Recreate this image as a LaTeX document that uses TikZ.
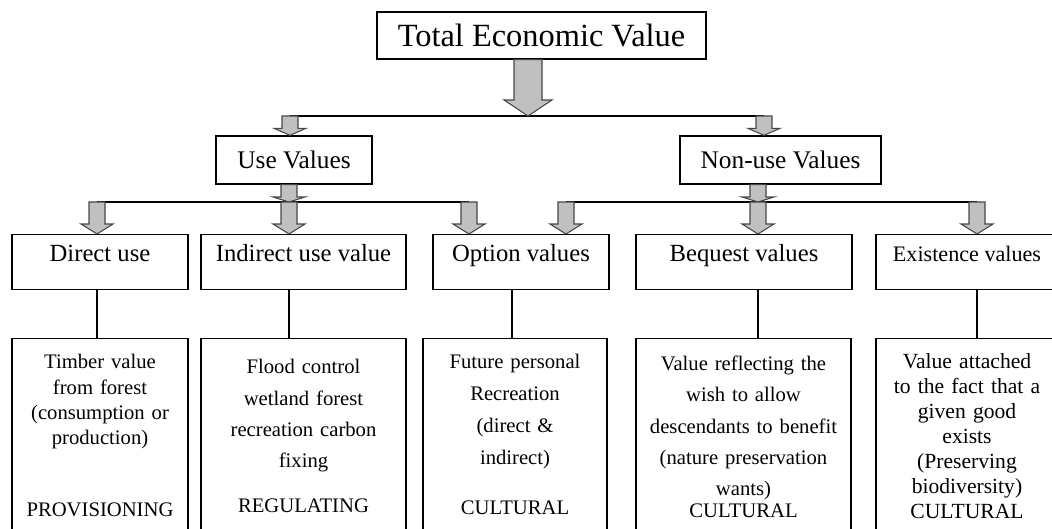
\documentclass[tikz,border=0pt]{standalone}
\usepackage{fontspec}
\setmainfont{Liberation Serif}
\usepackage{tikz}
\usetikzlibrary{calc}
\definecolor{arrowgray}{RGB}{192,192,192}
\definecolor{edgegray}{RGB}{70,70,70}
\newcommand{\blockarrow}[5]{%
    \filldraw[fill=arrowgray, draw=edgegray, line width=0.8pt, line join=miter]
        ($(#1)+(-#3,0)$) -- ($(#2)+(-#3,-#5)$) -- ($(#2)+(-#4,-#5)$) -- (#2)
        -- ($(#2)+(#4,-#5)$) -- ($(#2)+(#3,-#5)$) -- ($(#1)+(#3,0)$) -- cycle;}

\begin{document}
\begin{tikzpicture}[x=0.75pt, y=-0.75pt,
    box/.style={rectangle, draw=black, line width=1pt, fill=white},
    topbox/.style={box, inner sep=0pt, minimum height=36pt,
                   font=\fontsize{19}{23}\selectfont},
    midbox/.style={box, anchor=north, inner ysep=0pt, inner xsep=0pt,
                   text height=20.25pt, text depth=21pt,
                   font=\fontsize{18.5}{22}\selectfont},
    lowbox/.style={box, anchor=north, inner ysep=0pt, inner xsep=2pt,
                   align=center, text depth=150pt,
                   font=\fontsize{15.5}{19}\selectfont},
    link/.style={draw=black, line width=1pt}]
    \useasboundingbox (0,0) rectangle (1052,528);

    \foreach \n/\x in {cT/528, cU/290, cN/764, cD/97, cI/289, cO/469,
                       cP/566, cL/512, cB/758, cE/977}
        \coordinate (\n) at (\x,0);
    \coordinate (bus1) at (0,116);
    \coordinate (bus2) at (0,202);

    \node[box, inner sep=0pt, minimum width=246.75pt, minimum height=35.25pt,
          font=\fontsize{24.3}{28}\selectfont] (tev) at (541.5,35.5)
        {Total Economic Value};

    \node[topbox, minimum width=117pt] (use) at (294,160) {Use Values};
    \node[topbox, minimum width=150.75pt] (nonuse) at (780.5,160) {Non-use Values};

    \node[midbox, minimum width=132pt] (direct) at (100,234) {Direct use};
    \node[midbox, minimum width=153.75pt] (indirect) at (303.5,234) {Indirect use value};
    \node[midbox, minimum width=132pt] (option) at (521,234) {Option values};
    \node[midbox, minimum width=162pt] (bequest) at (744,234) {Bequest values};
    \node[midbox, minimum width=136.5pt, font=\fontsize{16.6}{19}\selectfont]
        (existence) at (967,234) {Existence values};

    \node[lowbox, text width=128pt, text height=22.5pt] (directd) at (100,338)
        {Timber value\\from forest\\(consumption or\\production)\\[35pt]PROVISIONING};
    \node[lowbox, text width=149.75pt, text height=26.25pt,
          font=\fontsize{15.5}{23.5}\selectfont] (indirectd) at (303.5,338)
        {Flood control\\wetland forest\\recreation carbon\\fixing\\[10pt]REGULATING};
    \node[lowbox, text width=134pt, text height=22.5pt,
          font=\fontsize{15.5}{24}\selectfont] (optiond) at (515,338)
        {Future personal\\Recreation\\(direct \&\\indirect)\\[13.5pt]CULTURAL};
    \node[lowbox, text width=157.25pt, text height=24pt,
          font=\fontsize{15.5}{23.4}\selectfont] (bequestd) at (743.5,338)
        {Value reflecting the\\wish to allow\\descendants to benefit\\(nature preservation\\wants)\\[-6.9pt]CULTURAL};
    \node[lowbox, text width=132.5pt, text height=22.5pt,
          font=\fontsize{16.2}{18.75}\selectfont] (existenced) at (967,338)
        {Value attached\\to the fact that a\\given good\\exists\\(Preserving\\biodiversity)\\CULTURAL};

    \draw[link] (bus1 -| cU) -- (bus1 -| cN);
    \draw[link] (bus2 -| cD) -- (bus2 -| cO);
    \draw[link] (bus2 -| cP) -- (bus2 -| cE);

    \blockarrow{tev.south -| cT}{bus1 -| cT}{14}{24}{16}
    \blockarrow{bus1 -| cU}{use.north -| cU}{8}{16}{7}
    \blockarrow{bus1 -| cN}{nonuse.north -| cN}{8}{16}{7}
    \blockarrow{use.south -| cI}{bus2 -| cI}{8}{16}{5}
    \blockarrow{nonuse.south -| cB}{bus2 -| cB}{8}{16}{5}
    \foreach \c/\n in {cD/direct, cI/indirect, cO/option, cP/option,
                       cB/bequest, cE/existence}
        {\blockarrow{bus2 -| \c}{\n.north -| \c}{8}{16}{10}}

    \foreach \c/\a/\b in {cD/direct/directd, cI/indirect/indirectd, cL/option/optiond,
                          cB/bequest/bequestd, cE/existence/existenced}
        \draw[link] (\a.south -| \c) -- (\b.north -| \c);
\end{tikzpicture}
\end{document}
